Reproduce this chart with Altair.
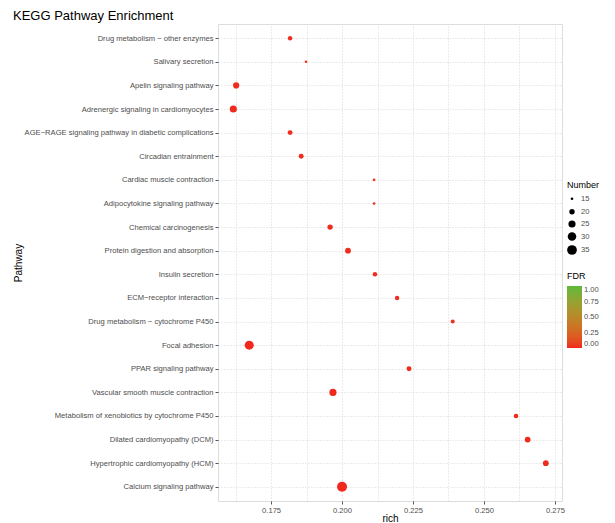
import altair as alt
import pandas as pd

pathways = [
    "Drug metabolism − other enzymes",
    "Salivary secretion",
    "Apelin signaling pathway",
    "Adrenergic signaling in cardiomyocytes",
    "AGE−RAGE signaling pathway in diabetic complications",
    "Circadian entrainment",
    "Cardiac muscle contraction",
    "Adipocytokine signaling pathway",
    "Chemical carcinogenesis",
    "Protein digestion and absorption",
    "Insulin secretion",
    "ECM−receptor interaction",
    "Drug metabolism − cytochrome P450",
    "Focal adhesion",
    "PPAR signaling pathway",
    "Vascular smooth muscle contraction",
    "Metabolism of xenobiotics by cytochrome P450",
    "Dilated cardiomyopathy (DCM)",
    "Hypertrophic cardiomyopathy (HCM)",
    "Calcium signaling pathway",
]
rich = [0.1817, 0.1873, 0.1627, 0.1617, 0.1817, 0.1856, 0.2113, 0.2113, 0.1958, 0.2021,
        0.2116, 0.2194, 0.2390, 0.1673, 0.2236, 0.1968, 0.2613, 0.2654, 0.2718, 0.2000]
number = [18, 15, 22, 25, 19, 19, 15, 15, 20, 21,
          18, 18, 17, 32, 19, 25, 18, 21, 21, 36]
fdr = [0.01, 0.02, 0.005, 0.004, 0.01, 0.01, 0.02, 0.02, 0.01, 0.01,
       0.01, 0.01, 0.02, 0.001, 0.01, 0.003, 0.01, 0.005, 0.005, 0.001]

x_values = [0.1625, 0.175, 0.1875, 0.2, 0.2125, 0.225, 0.2375, 0.25, 0.2625, 0.275]
size_values = [15, 20, 25, 30, 35]

df = pd.DataFrame({"Pathway": pathways, "rich": rich, "Number": number, "FDR": fdr})

major = "round(datum.value*400) % 10 == 0"

chart = alt.Chart(df).mark_circle(opacity=1).encode(
    x=alt.X(
        "rich:Q",
        title="rich",
        scale=alt.Scale(domain=[0.1563, 0.2775], nice=False, zero=False),
        axis=alt.Axis(
            values=x_values,
            format=".3f",
            labelExpr=f"{major} ? datum.label : ''",
            tickOpacity={"condition": {"test": major, "value": 1}, "value": 0},
            grid=True,
            gridColor="#d6d6d6",
            gridDash=[1, 2],
            labelFontSize=7.6,
            labelColor="#4d4d4d",
            titleFontSize=10,
            titleFontWeight="normal",
            titlePadding=0,
            tickColor="#555555",
            tickSize=3,
            domain=False,
            labelPadding=2,
        ),
    ),
    y=alt.Y(
        "Pathway:N",
        sort=pathways,
        title="Pathway",
        scale=alt.Scale(type="point", padding=0.6),
        axis=alt.Axis(
            grid=True,
            gridColor="#d6d6d6",
            gridDash=[1, 2],
            labelFontSize=7.6,
            labelColor="#4d4d4d",
            labelLimit=400,
            titleFontSize=10,
            titleFontWeight="normal",
            titleX=-195,
            tickColor="#555555",
            tickSize=3,
            domain=False,
            labelPadding=2,
        ),
    ),
    size=alt.Size(
        "Number:Q",
        scale=alt.Scale(domain=[15, 35], range=[7, 95]),
        legend=alt.Legend(
            values=size_values,
            orient="none",
            legendX=349,
            legendY=157,
            symbolFillColor="black",
            symbolStrokeWidth=0,
            symbolOpacity=1,
            titleFontSize=9,
            titleFontWeight="normal",
            labelFontSize=7.6,
            labelColor="#4d4d4d",
            rowPadding=4,
        ),
    ),
    color=alt.Color(
        "FDR:Q",
        scale=alt.Scale(domain=[0, 1], range=["#f0281e", "#5cba3c"], interpolate="lab"),
        legend=alt.Legend(
            orient="none",
            legendX=349,
            legendY=248,
            values=[0, 0.25, 0.5, 0.75, 1],
            format=".2f",
            gradientLength=62,
            gradientThickness=15,
            titleFontSize=9,
            titleFontWeight="normal",
            labelFontSize=7.6,
            labelColor="#4d4d4d",
        ),
    ),
).properties(
    width=344,
    height=477,
    title=alt.Title("KEGG Pathway Enrichment", fontSize=13, fontWeight="normal",
                    anchor="start", offset=1),
    padding={"left": 5, "top": 2, "right": 5, "bottom": 0},
).configure_view(
    stroke="#7a7a7a", strokeWidth=1
).configure(
    font="Liberation Sans"
)

chart.save("out.html", embed_options={"renderer": "svg", "actions": False})
